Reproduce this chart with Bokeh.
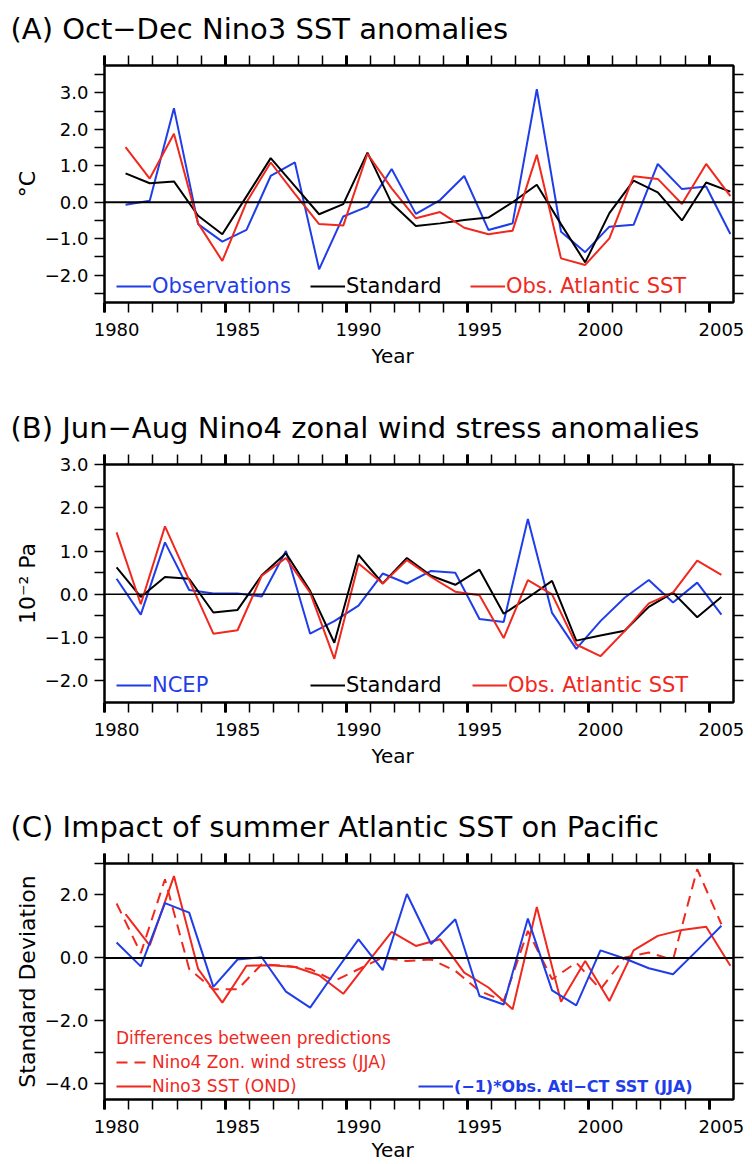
from bokeh.plotting import figure
from bokeh.models import (Range1d, LinearAxis, FixedTicker, Span, Legend, LegendItem, Title,
                          CustomJSTickFormatter, ColumnDataSource)
from bokeh.layouts import column
from bokeh.embed import file_html
from bokeh.resources import INLINE

# ---------------- data ----------------
years = list(range(1980, 2006))
OND_CENTER = 0.87   # Oct-Dec season centre (fraction of year)
JJA_CENTER = 0.5    # Jun-Aug season centre

# (A) Oct-Dec Nino3 SST anomalies (deg C)
a_obs = [-0.07, 0.04, 2.58, -0.60, -1.08, -0.76, 0.72, 1.09, -1.84, -0.39, -0.12, 0.91, -0.32,
         0.06, 0.72, -0.76, -0.58, 3.10, -0.81, -1.37, -0.67, -0.62, 1.05, 0.36, 0.43, -0.87]
a_std = [0.79, 0.52, 0.57, -0.37, -0.88, 0.16, 1.21, 0.44, -0.33, -0.05, 1.36, -0.03, -0.65,
         -0.58, -0.49, -0.42, 0.00, 0.48, -0.60, -1.65, -0.30, 0.59, 0.27, -0.50, 0.54, 0.29]
a_atl = [1.51, 0.65, 1.88, -0.58, -1.61, 0.00, 1.09, 0.23, -0.60, -0.64, 1.33, 0.38, -0.44,
         -0.27, -0.70, -0.88, -0.78, 1.30, -1.54, -1.72, -0.99, 0.71, 0.64, -0.05, 1.05, 0.17]

# (B) Jun-Aug Nino4 zonal wind stress anomalies (1e-2 Pa)
b_ncep = [0.36, -0.47, 1.20, 0.10, 0.02, 0.02, -0.05, 1.00, -0.91, -0.62, -0.26, 0.48, 0.25,
          0.54, 0.50, -0.57, -0.64, 1.74, -0.43, -1.26, -0.62, -0.08, 0.33, -0.19, 0.27, -0.47]
b_std = [0.62, -0.06, 0.40, 0.36, -0.42, -0.36, 0.44, 0.95, 0.08, -1.12, 0.91, 0.25, 0.84,
         0.43, 0.22, 0.57, -0.45, -0.08, 0.31, -1.07, -0.95, -0.84, -0.29, 0.04, -0.53, -0.06]
b_atl = [1.43, -0.23, 1.57, 0.33, -0.91, -0.83, 0.43, 0.84, 0.04, -1.49, 0.71, 0.25, 0.79,
         0.40, 0.06, -0.02, -1.01, 0.33, 0.00, -1.16, -1.43, -0.85, -0.21, 0.04, 0.78, 0.45]

# (C) Impact of summer Atlantic SST on Pacific (standard deviations)
c_wind = [1.73, 0.15, 2.50, -0.35, -1.00, -1.00, -0.20, -0.25, -0.35, -0.73, -0.36, 0.01, -0.10,
          -0.05, -0.41, -1.05, -1.37, 0.86, -0.68, -0.15, -1.00, 0.01, 0.17, -0.06, 2.82, 1.07]
c_sst = [1.39, 0.40, 2.60, -0.35, -1.42, -0.25, -0.23, -0.29, -0.55, -1.14, -0.15, 0.83, 0.38,
         0.59, -0.47, -0.94, -1.63, 1.62, -1.39, -0.10, -1.37, 0.24, 0.70, 0.89, 0.99, -0.25]
c_atl = [0.49, -0.27, 1.74, 1.44, -0.92, -0.05, 0.02, -1.07, -1.58, -0.48, 0.59, -0.39, 2.03,
         0.44, 1.23, -1.21, -1.48, 1.25, -1.03, -1.51, 0.24, -0.02, -0.33, -0.52, 0.24, 1.02]

x_major = [1980, 1985, 1990, 1995, 2000, 2005]
x_label_pos = [v + 0.5 for v in x_major]

# ---------------- style ----------------
BLUE = "#1f3de8"
RED = "#f0281e"
BLACK = "#000000"
FONT = "DejaVu Sans"
W = 752
FRAME_LEFT = 104
FRAME_RIGHT = 733
YEAR_CAPTION_OFFSET = 267   # px from frame left to the start of the "Year" caption

t_ond = [y + OND_CENTER for y in years]
t_jja = [y + JJA_CENTER for y in years]


def tick_style(ax, label_size):
    ax.axis_line_width = 2
    ax.axis_line_color = BLACK
    ax.major_tick_in = 0
    ax.major_tick_out = 10
    ax.minor_tick_in = 0
    ax.minor_tick_out = 10
    ax.major_tick_line_width = 1.5
    ax.minor_tick_line_width = 1.5
    ax.major_label_text_font = FONT
    ax.major_label_text_font_size = label_size
    ax.major_label_text_color = BLACK
    ax.axis_label_text_font = FONT
    ax.axis_label_text_font_size = "20px"
    ax.axis_label_text_font_style = "normal"
    ax.axis_label_text_color = BLACK


def hide_labels(ax):
    ax.major_label_text_font_size = "1px"
    ax.major_label_text_color = None
    ax.major_label_standoff = 0


def bare(ax):
    ax.axis_line_color = None
    ax.major_tick_line_color = None
    ax.minor_tick_line_color = None
    ax.major_tick_out = 0
    ax.minor_tick_out = 0


def make_fig(height, ylo, yhi, ymajor, yminor, title, ylabel, btop, bbot,
             lab_standoff, year_standoff, zero_width):
    p = figure(width=W, height=height, x_range=Range1d(1980, 2006), y_range=Range1d(ylo, yhi),
               output_backend="svg", toolbar_location=None,
               min_border_left=FRAME_LEFT, min_border_right=W - FRAME_RIGHT,
               min_border_top=btop, min_border_bottom=bbot)
    p.xgrid.grid_line_color = None
    p.ygrid.grid_line_color = None
    p.outline_line_color = BLACK
    p.outline_line_width = 2
    p.background_fill_color = "white"
    p.border_fill_color = "white"

    p.title.text = title
    p.title.text_font = FONT
    p.title.text_font_size = "29px"
    p.title.text_font_style = "normal"
    p.title.text_color = BLACK
    p.title.align = "left"
    p.title.offset = 10 - FRAME_LEFT
    p.title.standoff = 19

    # bottom tick axis (ticks only)
    ax1 = p.xaxis[0]
    ax1.ticker = FixedTicker(ticks=x_major, minor_ticks=years)
    tick_style(ax1, "18px")
    hide_labels(ax1)
    ax1.major_tick_line_width = 3

    # bottom label axis (labels centred on each year)
    ax2 = LinearAxis(ticker=FixedTicker(ticks=x_label_pos, minor_ticks=[]),
                     formatter=CustomJSTickFormatter(code="return Math.floor(tick).toString();"))
    tick_style(ax2, "18px")
    bare(ax2)
    ax2.major_label_standoff = lab_standoff
    p.add_layout(ax2, "below")

    # "Year" caption, placed where the original puts it (left of the frame centre)
    p.add_layout(Title(text="Year", align="left", offset=YEAR_CAPTION_OFFSET,
                       standoff=year_standoff, text_font=FONT, text_font_size="20px",
                       text_font_style="normal", text_color=BLACK), "below")

    # top mirror axis
    ax3 = LinearAxis(ticker=FixedTicker(ticks=x_major, minor_ticks=years))
    tick_style(ax3, "18px")
    hide_labels(ax3)
    ax3.major_tick_line_width = 3
    p.add_layout(ax3, "above")

    # left axis
    ay = p.yaxis[0]
    ay.ticker = FixedTicker(ticks=ymajor, minor_ticks=yminor)
    ay.formatter = CustomJSTickFormatter(code="return tick.toFixed(1).replace('-', '\u2212');")
    tick_style(ay, "18px")
    ay.major_label_standoff = 6
    ay.axis_label = ylabel
    ay.axis_label_text_font_size = "22px"
    ay.axis_label_standoff = 2

    # right mirror axis
    ay2 = LinearAxis(ticker=FixedTicker(ticks=ymajor, minor_ticks=yminor))
    tick_style(ay2, "18px")
    hide_labels(ay2)
    p.add_layout(ay2, "right")

    p.add_layout(Span(location=0, dimension="width", line_color=BLACK, line_width=zero_width))
    return p


def legend(p, items, loc, color, size, bold=False, title=None):
    lg = Legend(items=items, location=loc, orientation="vertical",
                padding=0, margin=0, spacing=4,
                glyph_width=35, glyph_height=20, label_height=20, label_standoff=1,
                label_text_font=FONT, label_text_font_size=size, label_text_color=color,
                label_text_font_style="bold" if bold else "normal",
                border_line_color=None, background_fill_alpha=0)
    if title is not None:
        lg.title = title
        lg.title_text_color = color
        lg.title_text_font = FONT
        lg.title_text_font_size = size
        lg.title_text_font_style = "normal"
        lg.title_standoff = 4
    p.add_layout(lg)


# ---------------- Panel A ----------------
srcA = ColumnDataSource(dict(t=t_ond, obs=a_obs, std=a_std, atl=a_atl))
pA = make_fig(378, -2.75, 3.75, [-2, -1, 0, 1, 2, 3],
              [-2.5, -1.5, -0.5, 0.5, 1.5, 2.5, 3.5],
              "(A) Oct\u2212Dec Nino3 SST anomalies", "\u00b0C", 65, 76, 10, 7, 2)
rA1 = pA.line("t", "obs", source=srcA, line_color=BLUE, line_width=2)
rA2 = pA.line("t", "std", source=srcA, line_color=BLACK, line_width=2)
rA3 = pA.line("t", "atl", source=srcA, line_color=RED, line_width=2)
legend(pA, [LegendItem(label="Observations", renderers=[rA1])], (12, 4), BLUE, "21px")
legend(pA, [LegendItem(label="Standard", renderers=[rA2])], (206, 4), BLACK, "21px")
legend(pA, [LegendItem(label="Obs. Atlantic SST", renderers=[rA3])], (366, 4), RED, "21px")

# ---------------- Panel B ----------------
srcB = ColumnDataSource(dict(t=t_jja, ncep=b_ncep, std=b_std, atl=b_atl))
pB = make_fig(398, -2.5, 3.0, [-2, -1, 0, 1, 2, 3],
              [-1.5, -0.5, 0.5, 1.5, 2.5],
              "(B) Jun\u2212Aug Nino4 zonal wind stress anomalies", "10\u207b\u00b2 Pa",
              86, 74, 10, 7, 1.5)
rB1 = pB.line("t", "ncep", source=srcB, line_color=BLUE, line_width=2)
rB2 = pB.line("t", "std", source=srcB, line_color=BLACK, line_width=2)
rB3 = pB.line("t", "atl", source=srcB, line_color=RED, line_width=2)
legend(pB, [LegendItem(label="NCEP", renderers=[rB1])], (12, 5), BLUE, "21px")
legend(pB, [LegendItem(label="Standard", renderers=[rB2])], (206, 5), BLACK, "21px")
legend(pB, [LegendItem(label="Obs. Atlantic SST", renderers=[rB3])], (368, 5), RED, "21px")

# ---------------- Panel C ----------------
srcC = ColumnDataSource(dict(tj=t_jja, to=t_ond, wind=c_wind, sst=c_sst, atl=c_atl))
pC = make_fig(388, -4.5, 3.0, [-4, -2, 0, 2], [-3, -1, 1, 3],
              "(C) Impact of summer Atlantic SST on Pacific", "Standard Deviation",
              87, 65, 10, 0, 2)
rC1 = pC.line("tj", "wind", source=srcC, line_color=RED, line_width=2, line_dash="11 7")
rC2 = pC.line("to", "sst", source=srcC, line_color=RED, line_width=2)
rC3 = pC.line("tj", "atl", source=srcC, line_color=BLUE, line_width=2)
legend(pC, [LegendItem(label="Nino4 Zon. wind stress (JJA)", renderers=[rC1]),
            LegendItem(label="Nino3 SST (OND)", renderers=[rC2])],
       (12, 3), RED, "17px", title="Differences between predictions")
legend(pC, [LegendItem(label="(\u22121)*Obs. Atl\u2212CT SST (JJA)", renderers=[rC3])],
       (314, 3), BLUE, "16px", bold=True)

layout = column(pA, pB, pC, spacing=0)
open("out.html", "w").write(file_html(layout, INLINE))
